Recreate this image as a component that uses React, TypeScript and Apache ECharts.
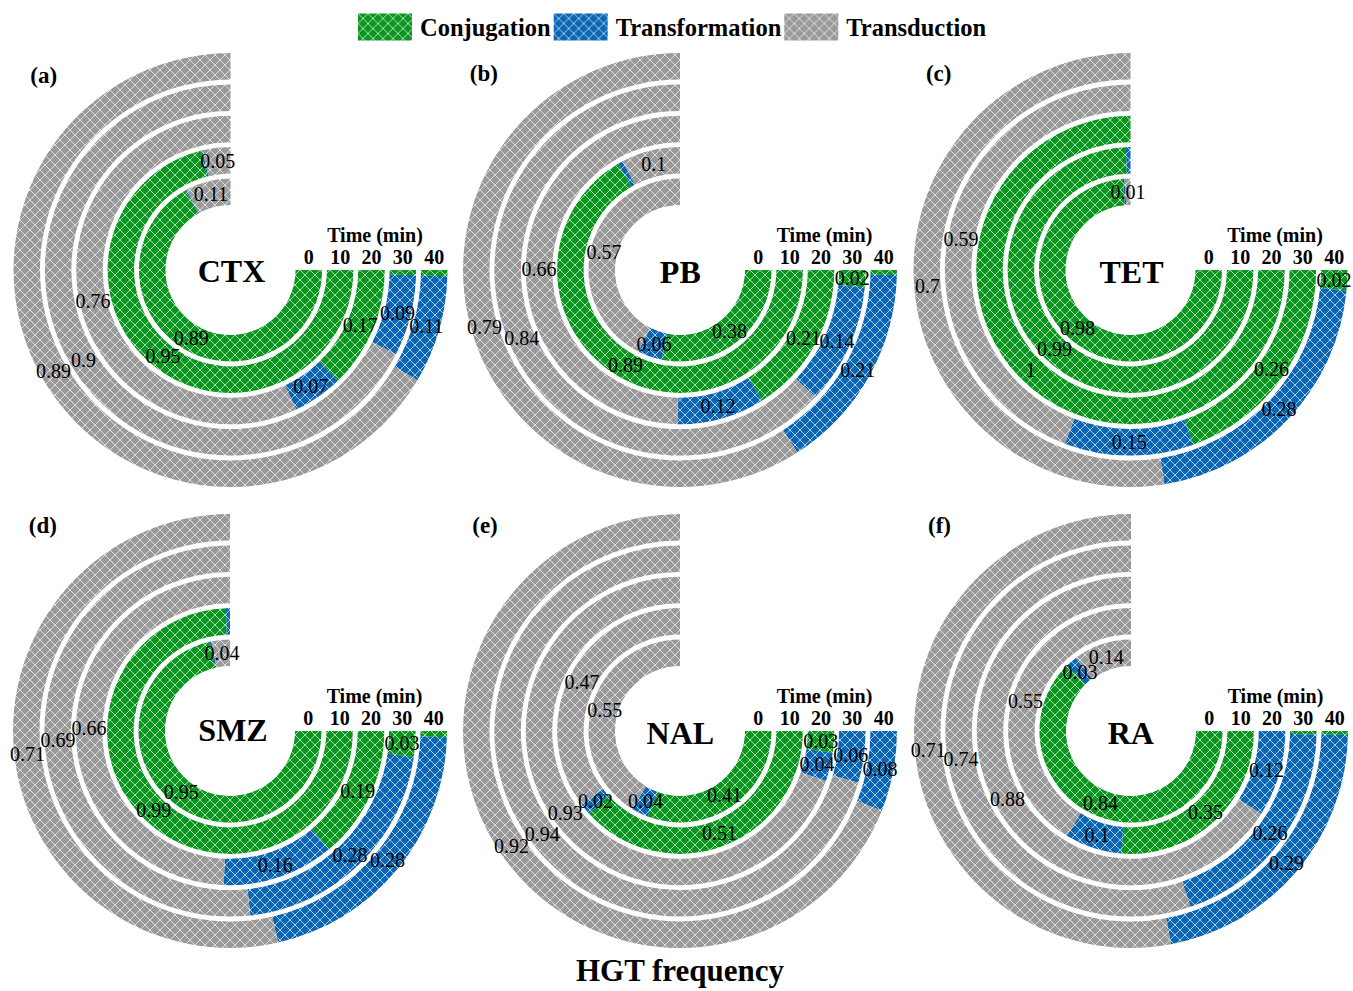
import React, { useEffect, useRef } from "react";
import * as echarts from "echarts";

// ---- data ----
const TIMES = ["0", "10", "20", "30", "40"];
const PANELS = ["CTX", "PB", "TET", "SMZ", "NAL", "RA"];
const PANEL_TAGS = ["(a)", "(b)", "(c)", "(d)", "(e)", "(f)"];
const MECHANISMS = ["Conjugation", "Transformation", "Transduction"];

// fractions per ring (0,10,20,30,40 min), inner to outer
const CONJUGATION = [
  [0.89, 0.948, 0.17, 0.006, 0.006], // CTX
  [0.376, 0.888, 0.214, 0.02, 0.005], // PB
  [0.982, 0.992, 1, 0.26, 0.02], // TET
  [0.952, 0.993, 0.186, 0.03, 0.006], // SMZ
  [0.41, 0.51, 0.03, 0, 0], // NAL
  [0.836, 0.35, 0, 0.004, 0.004], // RA
];
const TRANSFORMATION = [
  [0.003, 0.003, 0.07, 0.094, 0.107],
  [0.058, 0.009, 0.123, 0.14, 0.207],
  [0.004, 0.008, 0, 0.15, 0.28],
  [0.004, 0.007, 0.156, 0.28, 0.28],
  [0.04, 0.02, 0.04, 0.06, 0.08],
  [0.027, 0.1, 0.12, 0.26, 0.29],
];
const TRANSDUCTION = [
  [0.107, 0.049, 0.76, 0.9, 0.887],
  [0.566, 0.103, 0.663, 0.84, 0.788],
  [0.014, 0, 0, 0.59, 0.7],
  [0.044, 0, 0.658, 0.69, 0.714],
  [0.55, 0.47, 0.93, 0.94, 0.92],
  [0.137, 0.55, 0.88, 0.736, 0.706],
];
const SERIES_DATA = [CONJUGATION, TRANSFORMATION, TRANSDUCTION];

// ---- styling / layout ----
const COLORS = ["#0b961f", "#0b66b6", "#9a9a9a"];
const SERIF = '"Liberation Serif", "Times New Roman", serif';
const CENTERS: [number, number][] = [
  [230.5, 270],
  [680, 270],
  [1130.5, 270],
  [230, 731],
  [680, 731],
  [1131, 731],
];
const NAME_POS: [number, number][] = [
  [231.5, 271],
  [680.3, 271.5],
  [1131.5, 271.5],
  [233, 729.5],
  [680.3, 733],
  [1130.8, 733],
];
const TAG_POS: [number, number][] = [
  [43.7, 75],
  [483.8, 73.5],
  [938.7, 73.5],
  [42.8, 525],
  [485, 525],
  [939.5, 525],
];

function makeHatch(color: string): any {
  const s = 10;
  const c = document.createElement("canvas");
  c.width = s;
  c.height = s;
  const ctx = c.getContext("2d");
  if (!ctx) return color;
  ctx.fillStyle = color;
  ctx.fillRect(0, 0, s, s);
  ctx.strokeStyle = "rgba(255,255,255,0.65)";
  ctx.lineWidth = 1;
  for (const off of [-s, 0, s]) {
    ctx.beginPath();
    ctx.moveTo(off, 0);
    ctx.lineTo(off + s, s);
    ctx.stroke();
    ctx.beginPath();
    ctx.moveTo(off + s, 0);
    ctx.lineTo(off, s);
    ctx.stroke();
  }
  return { image: c, repeat: "repeat" };
}

function fmt(p: any) {
  const v = p.value as number;
  if (v < 0.01) return "";
  return String(Number(v.toFixed(2)));
}

export default function App() {
  const ref = useRef<HTMLDivElement>(null);

  useEffect(() => {
    if (!ref.current) return;
    const chart = echarts.init(ref.current, undefined, { renderer: "svg" });
    const fills = COLORS.map((c) => makeHatch(c));

    const polar = CENTERS.map((c) => ({ center: c, radius: [62.6, 219.4] }));
    const angleAxis = CENTERS.map((_, i) => ({
      polarIndex: i,
      type: "value",
      min: 0,
      max: 4 / 3,
      startAngle: 0,
      clockwise: true,
      show: false,
    }));
    const radiusAxis = CENTERS.map((_, i) => ({
      polarIndex: i,
      type: "category",
      data: TIMES,
      z: 10,
      axisLine: { show: false },
      axisTick: { show: false },
      splitLine: { show: false },
      axisLabel: {
        show: true,
        interval: 0,
        margin: 3,
        color: "#000",
        fontFamily: SERIF,
        fontWeight: "bold",
        fontSize: 20,
      },
    }));

    const series: any[] = [];
    PANELS.forEach((_, i) => {
      MECHANISMS.forEach((m, k) => {
        series.push({
          type: "bar",
          name: m,
          coordinateSystem: "polar",
          polarIndex: i,
          stack: "panel" + i,
          barWidth: 26.5,
          data: SERIES_DATA[k][i],
          itemStyle: { color: fills[k] },
          label: {
            show: true,
            position: "middle",
            rotate: 0,
            formatter: fmt,
            color: "#000",
            fontFamily: SERIF,
            fontSize: 20,
            textBorderWidth: 0,
            textBorderColor: "transparent",
            textShadowBlur: 0,
          },
          emphasis: { disabled: true },
        });
      });
    });

    const graphic: any[] = [];
    PANELS.forEach((name, i) => {
      const [cx, cy] = CENTERS[i];
      graphic.push({
        type: "text",
        x: NAME_POS[i][0],
        y: NAME_POS[i][1],
        style: {
          text: name,
          fill: "#000",
          font: `bold 32px ${SERIF}`,
          textAlign: "center",
          textVerticalAlign: "middle",
        },
      });
      graphic.push({
        type: "text",
        x: cx + 144.5,
        y: cy - 35.5,
        style: {
          text: "Time (min)",
          fill: "#000",
          font: `bold 20px ${SERIF}`,
          textAlign: "center",
          textVerticalAlign: "middle",
        },
      });
      graphic.push({
        type: "text",
        x: TAG_POS[i][0],
        y: TAG_POS[i][1],
        style: {
          text: PANEL_TAGS[i],
          fill: "#000",
          font: `bold 23px ${SERIF}`,
          textAlign: "center",
          textVerticalAlign: "middle",
        },
      });
    });
    graphic.push({
      type: "text",
      x: 680,
      y: 970,
      style: {
        text: "HGT frequency",
        fill: "#000",
        font: `bold 31px ${SERIF}`,
        textAlign: "center",
        textVerticalAlign: "middle",
      },
    });

    chart.setOption({
      animation: false,
      backgroundColor: "#fff",
      legend: {
        left: 358,
        top: 13.5,
        padding: 0,
        itemWidth: 54,
        itemHeight: 27,
        itemGap: 3,
        icon: "rect",
        data: MECHANISMS,
        textStyle: {
          color: "#000",
          fontFamily: SERIF,
          fontWeight: "bold",
          fontSize: 24.5,
          padding: [0, 0, 0, 3],
        },
      },
      polar,
      angleAxis,
      radiusAxis,
      series,
      graphic,
    });

    return () => chart.dispose();
  }, []);

  return (
    <div
      ref={ref}
      style={{ position: "fixed", left: 0, top: 0, width: 1353, height: 991 }}
    />
  );
}
